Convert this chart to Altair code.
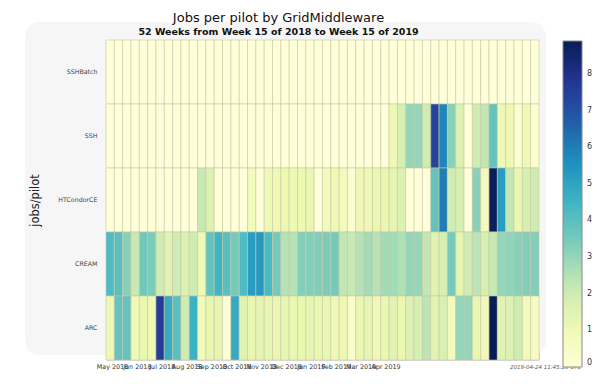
import json
import altair as alt
import pandas as pd

rows = ["SSHBatch", "SSH", "HTCondorCE", "CREAM", "ARC"]

sshbatch = [0, 0, 0, 0, 0, 0, 0, 0, 0, 0, 0, 0, 0, 0, 0, 0, 0, 0, 0, 0, 0, 0, 0, 0, 0, 0,
            0, 0, 0, 0, 0, 0, 0, 0, 0, 0, 0, 0, 0, 0, 0, 0, 0, 0, 0, 0, 0, 0, 0, 0, 0, 0]
ssh = [0, 0, 0, 0, 0, 0, 0, 0, 0, 0, 0, 0, 0, 0, 0, 0, 0, 0, 0, 0, 0, 0, 0, 0, 0, 0,
       0, 0, 0, 0, 0, 0, 0, 0, 1.0, 1.8, 3.0, 3.0, 2.0, 7.4, 5.8, 3.2, 1.6, 0, 2.0, 2.3,
       3.8, 1.0, 1.0, 0.3, 1.0, 0.2]
htcondorce = [0, 0, 0, 0, 0, 0, 0, 0, 0, 0, 0, 2.2, 1.6, 0, 0, 0, 0, 0.8, 0, 1.0, 1.0,
              1.1, 1.0, 1.1, 1.2, 0, 0.8, 1.0, 0.8, 0.2, 1.0, 1.0, 1.2, 1.2, 1.3, 1.6, 0,
              0, 0, 3.8, 6.0, 2.0, 1.8, 0, 3.2, 0.8, 8.8, 5.2, 2.3, 1.2, 1.8, 2.0]
cream = [4.2, 4.0, 3.2, 2.2, 3.6, 3.4, 2.0, 1.5, 2.0, 1.6, 2.0, 1.0, 3.8, 4.5, 4.0, 3.5,
         4.2, 5.2, 5.3, 4.3, 3.5, 2.5, 2.5, 3.3, 3.3, 3.3, 3.4, 3.5, 2.3, 2.2, 2.5, 2.8,
         2.5, 2.8, 2.8, 2.6, 3.0, 3.0, 2.3, 1.5, 1.8, 3.5, 1.3, 2.0, 2.4, 1.8, 2.2, 3.0,
         3.1, 3.2, 3.3, 3.3]
arc = [1.0, 3.8, 3.8, 1.0, 1.2, 1.0, 7.6, 4.8, 4.0, 2.0, 4.6, 0.8, 1.2, 1.3, 0.0, 4.8,
       1.5, 1.2, 1.3, 1.3, 1.2, 1.3, 1.2, 1.2, 1.3, 1.2, 1.2, 1.0, 1.0, 0.4, 1.2, 1.3,
       1.0, 1.2, 1.5, 1.2, 1.6, 1.8, 2.4, 1.4, 1.7, 0.8, 3.0, 3.0, 1.2, 0.9, 8.9, 1.5,
       1.6, 2.0, 0.8, 0.6]

months = ["May 2018", "Jun 2018", "Jul 2018", "Aug 2018", "Sep 2018", "Oct 2018",
          "Nov 2018", "Dec 2018", "Jan 2019", "Feb 2019", "Mar 2019", "Apr 2019"]
month_ticks = [0.72, 3.7, 6.69, 9.68, 12.66, 15.65, 18.63, 21.62, 24.6, 27.59, 30.57, 33.56]
legend_values = [0, 1, 2, 3, 4, 5, 6, 7, 8]
timestamp = "2019-04-24 11:45:20 UTC"

# matplotlib YlGnBu colour stops over the colour-bar range 0 .. 8.9
cmap_stops = [0, 1.1125, 2.225, 3.3375, 4.45, 5.5625, 6.675, 7.7875, 8.9]
cmap_colors = ["#ffffd9", "#edf8b1", "#c7e9b4", "#7fcdbb", "#41b6c4",
               "#1d91c0", "#225ea8", "#253494", "#081d58"]

series = {"SSHBatch": sshbatch, "SSH": ssh, "HTCondorCE": htcondorce,
          "CREAM": cream, "ARC": arc}
recs = []
for r in rows:
    for i, v in enumerate(series[r]):
        recs.append({"row": r, "w": i, "w2": i + 1, "value": v})
df = pd.DataFrame(recs)

FONT = "DejaVu Sans"
label_expr = (json.dumps(months) + "[round((datum.value - 0.72) / 2.985)]")

panel = alt.Chart(pd.DataFrame({"p": [0]})).mark_rect(
    color="#f6f6f6", cornerRadius=14
).encode(x=alt.value(-81), x2=alt.value(440), y=alt.value(-18), y2=alt.value(315))

heat = alt.Chart(df).mark_rect(stroke="#c8c8a4", strokeWidth=0.6).encode(
    x=alt.X("w:Q", scale=alt.Scale(domain=[0, 52], nice=False, zero=False),
            axis=alt.Axis(values=month_ticks, labelExpr=label_expr, title=None,
                          grid=False, ticks=False, domain=False, labelOverlap=False,
                          labelFlush=False, labelBound=False, labelFontSize=6.4,
                          labelColor="#333", labelPadding=3, labelFont=FONT)),
    x2="w2:Q",
    y=alt.Y("row:N", sort=rows,
            scale=alt.Scale(paddingInner=0, paddingOuter=0),
            axis=alt.Axis(title="jobs/pilot", ticks=False, domain=False,
                          labelFontSize=6.3, labelColor="#444", labelPadding=9,
                          labelFont=FONT, titleFont=FONT, titleFontSize=11.5,
                          titleFontWeight="normal", titleColor="#222",
                          titleX=-71, titleY=160, titleAngle=-90,
                          titleAlign="center", titleBaseline="middle")),
    color=alt.Color("value:Q",
                    scale=alt.Scale(domain=cmap_stops, range=cmap_colors,
                                    interpolate="rgb"),
                    legend=alt.Legend(orient="none", legendX=457, legendY=1,
                                      direction="vertical", gradientLength=326,
                                      gradientThickness=19, title=None,
                                      values=legend_values, labelFontSize=8,
                                      labelColor="#333", labelFont=FONT,
                                      gradientStrokeColor="#888",
                                      gradientStrokeWidth=1, labelOffset=5,
                                      labelOverlap=False)),
)

stamp = alt.Chart(pd.DataFrame({"t": [timestamp]})).mark_text(
    align="left", baseline="middle", fontSize=5.5, fontStyle="italic",
    color="#555", font=FONT,
).encode(x=alt.value(404), y=alt.value(327), text="t:N")

chart = alt.layer(panel, heat, stamp).properties(
    width=433, height=320,
    autosize=alt.AutoSizeParams(type="none"),
    padding={"left": 106, "top": 40, "right": 58, "bottom": 24},
    title=alt.TitleParams(
        text="Jobs per pilot by GridMiddleware",
        subtitle="52 Weeks from Week 15 of 2018 to Week 15 of 2019",
        fontSize=13, fontWeight="normal", color="#111", font=FONT,
        subtitleFontSize=9.5, subtitleFontWeight="bold", subtitleColor="#111",
        subtitleFont=FONT, subtitlePadding=2,
        anchor="middle", frame="group", dx=-44, offset=-14),
).configure_view(stroke="#777", strokeWidth=1).configure(background="white")

chart.save("out.html", embed_options={"renderer": "svg", "actions": False})
